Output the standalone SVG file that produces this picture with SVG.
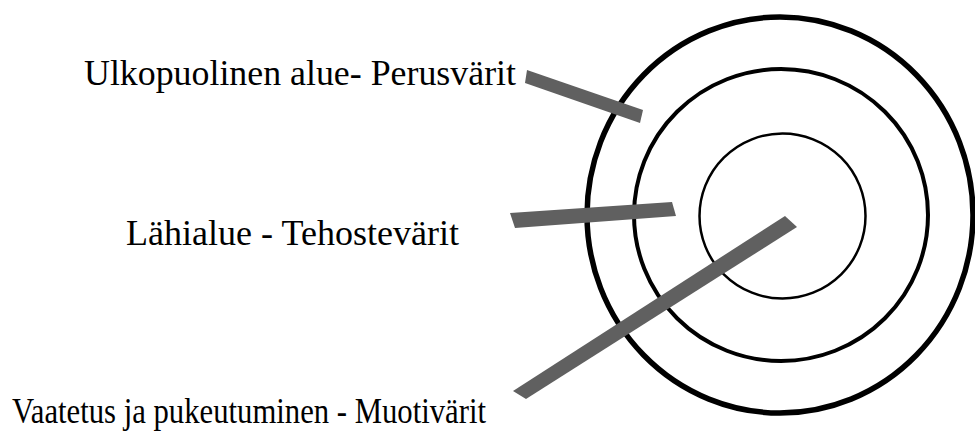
<svg xmlns="http://www.w3.org/2000/svg" width="975" height="434" viewBox="0 0 975 434">
  <style>
    .ring { fill: none; stroke: #000; }
    .bar { fill: #606060; }
    .label { font-family: "Liberation Serif", "Times New Roman", Times, serif; font-size: 35.5px; fill: #000; }
  </style>
  <rect width="975" height="434" fill="#fff"/>

  <!-- concentric zones -->
  <g id="rings">
    <ellipse id="outer-ring" class="ring" cx="780" cy="215" rx="193" ry="198" stroke-width="5.5"/>
    <ellipse id="middle-ring" class="ring" cx="781" cy="215" rx="147" ry="146" stroke-width="4"/>
    <ellipse id="inner-ring" class="ring" cx="782.5" cy="216" rx="83" ry="82.5" stroke-width="2.5"/>
  </g>

  <!-- pointer bars -->
  <g id="connectors">
    <polygon class="bar" points="527,70 643,110 640,123 525,83"/>
    <polygon class="bar" points="510,213 672,202 676,216 515,228"/>
    <polygon class="bar" points="785,216 797,227 526,399 513,391"/>
  </g>

  <g id="label-outer">
    <text class="label" x="84" y="85" textLength="432" lengthAdjust="spacingAndGlyphs">Ulkopuolinen alue- Perusvärit</text>
  </g>
  <g id="label-near">
    <text class="label" x="126" y="245" textLength="333" lengthAdjust="spacingAndGlyphs">Lähialue - Tehostevärit</text>
  </g>
  <g id="label-clothing">
    <text class="label" x="12" y="423" textLength="474" lengthAdjust="spacingAndGlyphs">Vaatetus ja pukeutuminen - Muotivärit</text>
  </g>
</svg>
